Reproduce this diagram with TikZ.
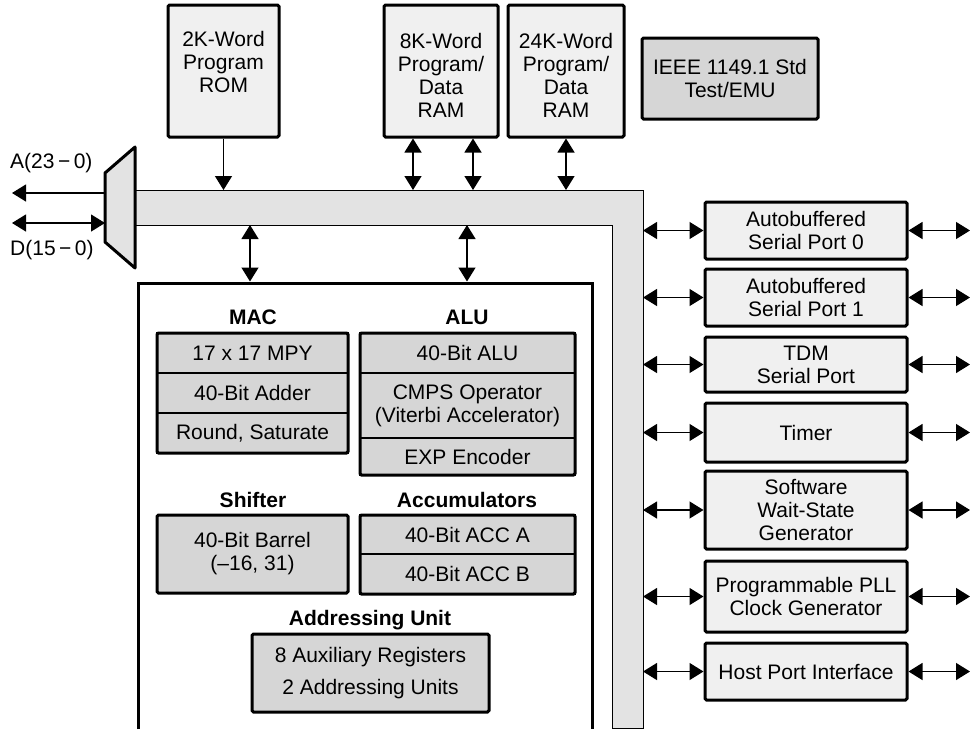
\documentclass[tikz,border=0pt]{standalone}
\usepackage{fontspec}
\setmainfont{Liberation Sans}
\usetikzlibrary{
  arrows.meta,
  positioning
}
\definecolor{memfill}{gray}{0.94}
\definecolor{unitfill}{gray}{0.84}
\definecolor{busfill}{gray}{0.89}
\newcommand\bodyfont{\fontsize{21}{23}\selectfont}
\tikzset{
  membox/.style={draw, line width=3pt, fill=memfill, rounded corners=1.5pt, inner sep=0pt},
  unitbox/.style={draw, line width=3pt, fill=unitfill, rounded corners=1.5pt, align=center, inner sep=0pt},
  rowbox/.style={draw, line width=1.5pt, fill=unitfill, inner sep=0pt, outer sep=0pt},
  periph/.style={membox, minimum width=202pt, align=center},
  unittitle/.style={font=\bodyfont\bfseries, inner sep=0pt},
  busarrow/.style={line width=1.3pt, -{Triangle[length=14pt,width=17pt]}},
  dualarrow/.style={line width=1.3pt, {Triangle[length=14pt,width=17pt]}-{Triangle[length=14pt,width=17pt]}}
}

\begin{document}
\begin{tikzpicture}[x=1pt, y=-1pt, font=\bodyfont]
\useasboundingbox (0,0) rectangle (971,729);
% internal bus
\filldraw[fill=busfill, line width=1pt] (135,190) -- (643,190) -- (643,728) -- (612,728) -- (612,225) -- (135,225) -- cycle;
\coordinate (bustop) at (135,190);
\coordinate (businner) at (135,225);
\coordinate (busouter) at (643,190);
\coordinate (rimL) at (12,0);
\coordinate (rimR) at (970,0);

% external bus mux
\filldraw[fill=busfill, line width=3pt, line join=round] (105,173) -- (135,147) -- (135,268) -- (105,242) -- cycle;
\coordinate (muxA) at (105,193);
\coordinate (muxD) at (105,223);
\draw[busarrow] (muxA) -- (muxA -| rimL);
\draw[dualarrow] (muxD) -- (muxD -| rimL);
\node[anchor=west, inner sep=0pt] (addrlbl) at (10,163) {A(23\,−\,0)};
\node[anchor=west, inner sep=0pt] (datalbl) at (10,250) {D(15\,−\,0)};

% memories
\node[membox, minimum width=111pt, minimum height=132pt] (rom) at (223.5,71) {};
\node[align=center] (romtext) at (223.5,62) {2K-Word\\Program\\ROM};
\node[membox, minimum width=114pt, minimum height=132pt] (ram8) at (441,71) {};
\node[align=center] (ram8text) at (441,75) {8K-Word\\Program/\\Data\\RAM};
\node[membox, minimum width=116pt, minimum height=132pt] (ram24) at (566,71) {};
\node[align=center] (ram24text) at (566,75) {24K-Word\\Program/\\Data\\RAM};
\node[unitbox, minimum width=176pt, minimum height=81pt] (jtag) at (730,78.5) {IEEE 1149.1 Std\\Test/EMU};

\coordinate (ram8a) at ([xshift=-28pt]ram8.south);
\coordinate (ram8b) at ([xshift=32pt]ram8.south);
\draw[busarrow] (rom) -- (rom |- bustop);
\draw[dualarrow] (ram8a) -- (ram8a |- bustop);
\draw[dualarrow] (ram8b) -- (ram8b |- bustop);
\draw[dualarrow] (ram24) -- (ram24 |- bustop);

% CPU core
\node[minimum width=454pt, minimum height=446pt, inner sep=0pt, outer sep=0pt] (cpu) at (365,506) {};
\draw[line width=3pt] (cpu.south west) -- (cpu.north west) -- (cpu.north east) -- (cpu.south east);
\coordinate (cpuA) at ([xshift=-115pt, yshift=1.5pt]cpu.north);
\coordinate (cpuB) at ([xshift=102pt, yshift=1.5pt]cpu.north);
\draw[dualarrow] (cpuA) -- (cpuA |- businner);
\draw[dualarrow] (cpuB) -- (cpuB |- businner);

\node[unittitle] (mactitle) at (253,317) {MAC};
\node[rowbox, minimum width=191pt, minimum height=40pt] (mac1) at (252.5,353) {17 x 17 MPY};
\node[rowbox, minimum width=191pt, minimum height=40pt] (mac2) at (252.5,393) {40-Bit Adder};
\node[rowbox, minimum width=191pt, minimum height=40pt] (mac3) at (252.5,433) {Round, Saturate};
\draw[line width=3pt, rounded corners=1.5pt] (mac1.north west) rectangle (mac3.south east);

\node[unittitle] (alutitle) at (467,317) {ALU};
\node[rowbox, minimum width=215pt, minimum height=40pt] (alu1) at (467.5,353) {40-Bit ALU};
\node[rowbox, minimum width=215pt, minimum height=65pt, align=center] (alu2) at (467.5,405.5) {CMPS Operator\\(Viterbi Accelerator)};
\node[rowbox, minimum width=215pt, minimum height=37pt] (alu3) at (467.5,456.5) {EXP Encoder};
\draw[line width=3pt, rounded corners=1.5pt] (alu1.north west) rectangle (alu3.south east);

\node[unittitle] (shifttitle) at (253,500) {Shifter};
\node[unitbox, minimum width=191pt, minimum height=78pt] (shifter) at (252.5,554) {40-Bit Barrel\\(--16, 31)};

\node[unittitle] (acctitle) at (467,500) {Accumulators};
\node[rowbox, minimum width=215pt, minimum height=39pt] (acca) at (467.5,534.5) {40-Bit ACC A};
\node[rowbox, minimum width=215pt, minimum height=40pt] (accb) at (467.5,574) {40-Bit ACC B};
\draw[line width=3pt, rounded corners=1.5pt] (acca.north west) rectangle (accb.south east);

\node[unittitle] (addrtitle) at (370,620) {Addressing Unit};
\node[unitbox, minimum width=237pt, minimum height=78pt] (addrunit) at (370.5,673) {8 Auxiliary Registers\\[9pt]2 Addressing Units};

% peripherals
\node[periph, minimum height=57pt] (sp0) at (806,230.5) {Autobuffered\\Serial Port 0};
\node[periph, minimum height=57pt] (sp1) at (806,297.5) {Autobuffered\\Serial Port 1};
\node[periph, minimum height=55pt] (tdm) at (806,364.5) {TDM\\Serial Port};
\node[periph, minimum height=59pt] (timer) at (806,432.5) {Timer};
\node[periph, minimum height=78pt] (wait) at (806,510) {Software\\Wait-State\\Generator};
\node[periph, minimum height=71pt] (pll) at (806,596.5) {Programmable PLL\\Clock Generator};
\node[periph, minimum height=57pt] (hpi) at (806,671.5) {Host Port Interface};

\draw[dualarrow] (sp0.west -| busouter) -- (sp0.west);
\draw[dualarrow] (sp1.west -| busouter) -- (sp1.west);
\draw[dualarrow] (tdm.west -| busouter) -- (tdm.west);
\draw[dualarrow] (timer.west -| busouter) -- (timer.west);
\draw[dualarrow] (wait.west -| busouter) -- (wait.west);
\draw[dualarrow] (pll.west -| busouter) -- (pll.west);
\draw[dualarrow] (hpi.west -| busouter) -- (hpi.west);

\draw[dualarrow] (sp0.east) -- (sp0.east -| rimR);
\draw[dualarrow] (sp1.east) -- (sp1.east -| rimR);
\draw[dualarrow] (tdm.east) -- (tdm.east -| rimR);
\draw[dualarrow] (timer.east) -- (timer.east -| rimR);
\draw[dualarrow] (wait.east) -- (wait.east -| rimR);
\draw[dualarrow] (pll.east) -- (pll.east -| rimR);
\draw[dualarrow] (hpi.east) -- (hpi.east -| rimR);
\end{tikzpicture}
\end{document}
